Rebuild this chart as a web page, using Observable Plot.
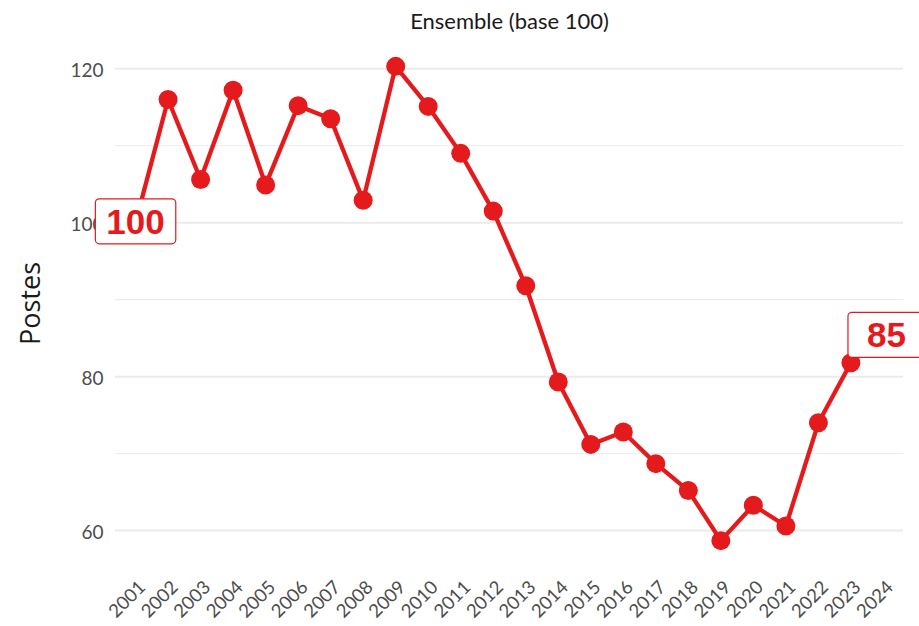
<!DOCTYPE html>
<html><head><meta charset="utf-8">
<script src="https://cdn.jsdelivr.net/npm/d3@7"></script>
<script src="https://cdn.jsdelivr.net/npm/@observablehq/plot@0.6"></script>
<style>html,body{margin:0;padding:0;background:#fff;} #chart svg{display:block;}</style>
</head><body><div id="chart"></div>
<script>
// ---- data ----
const years = [2001,2002,2003,2004,2005,2006,2007,2008,2009,2010,2011,2012,2013,2014,2015,2016,2017,2018,2019,2020,2021,2022,2023];
const values = [100,116.0,105.6,117.2,104.9,115.2,113.5,102.9,120.3,115.1,109.0,101.5,91.8,79.3,71.2,72.8,68.7,65.2,58.7,63.3,60.6,74.0,81.8];
const tickYears = [2001,2002,2003,2004,2005,2006,2007,2008,2009,2010,2011,2012,2013,2014,2015,2016,2017,2018,2019,2020,2021,2022,2023,2024];
const yMajorTicks = [60,80,100,120];
const yMinorTicks = [70,90,110];
const labelYears = [2001, 2024];
const labelValues = [100, 85];
const labelTexts = ["100", "85"];
const chartTitle = "Ensemble (base 100)";
const yTitle = "Postes";

// ---- build ----
const series = years.map((y, i) => ({year: y, value: values[i]}));
const labels = labelYears.map((y, i) => ({year: y, value: labelValues[i], text: labelTexts[i]}));
const RED = "#E41A1C";
const labelFont = "'Liberation Sans', Arial, sans-serif";

const plot = Plot.plot({
  width: 919, height: 626,
  marginLeft: 115, marginRight: 16, marginTop: 42, marginBottom: 62,
  style: {background: "#fff", fontFamily: "Lato, sans-serif"},
  x: {domain: [2000.383, 2024.617], axis: null},
  y: {domain: [55.6, 123.4], axis: null},
  marks: [
    Plot.ruleY(yMinorTicks, {stroke: "#ebebeb", strokeWidth: 1}),
    Plot.ruleY(yMajorTicks, {stroke: "#ebebeb", strokeWidth: 2}),
    Plot.axisY(yMajorTicks, {tickSize: 0, tickPadding: 12, fontSize: 19, color: "#4d4d4d", label: null, dy: 2}),
    Plot.text(tickYears, {x: d => d, frameAnchor: "bottom", rotate: -45, textAnchor: "end", lineAnchor: "bottom",
      dx: 11, dy: 24, fontSize: 18.5, fill: "#4d4d4d", text: d => String(d)}),
    Plot.text([chartTitle], {frameAnchor: "top", lineAnchor: "bottom", dy: -14, fontSize: 22, fill: "#1a1a1a"}),
    Plot.text([yTitle], {frameAnchor: "left", textAnchor: "middle", rotate: -90, dx: -84, fontSize: 27,
      fontFamily: "'Open Sans', sans-serif", fill: "#1a1a1a"}),
    Plot.line(series, {x: "year", y: "value", stroke: RED, strokeWidth: 4.3}),
    Plot.dot(series, {x: "year", y: "value", r: 9.5, fill: RED}),
    Plot.text(labels, {filter: d => d.text === "100", x: "year", y: "value", text: "text", fill: RED,
      fontSize: 35, fontWeight: "bold", fontFamily: labelFont}),
    Plot.text(labels, {filter: d => d.text === "85", x: "year", y: "value", text: "text", fill: RED,
      fontSize: 35, fontWeight: "bold", fontFamily: labelFont, dx: 3, dy: -2})
  ]
});
document.getElementById("chart").appendChild(plot);

// boxes behind the value labels
const pads = {"100": 11, "85": 19};
Array.from(plot.querySelectorAll("text"))
  .filter(t => labelTexts.includes(t.textContent) && t.closest("g") && t.closest("g").getAttribute("font-weight") === "bold")
  .forEach(t => {
    const b = t.getBBox();
    const px = pads[t.textContent] ?? 11;
    const py = 3;
    const r = document.createElementNS("http://www.w3.org/2000/svg", "rect");
    r.setAttribute("x", b.x - px);
    r.setAttribute("y", b.y - py);
    r.setAttribute("width", b.width + 2 * px);
    r.setAttribute("height", b.height + 2 * py);
    r.setAttribute("rx", 4);
    r.setAttribute("fill", "#fff");
    r.setAttribute("stroke", RED);
    r.setAttribute("stroke-width", 1.2);
    const tr = t.getAttribute("transform");
    if (tr) r.setAttribute("transform", tr);
    t.parentNode.insertBefore(r, t);
  });
</script>
</body></html>
